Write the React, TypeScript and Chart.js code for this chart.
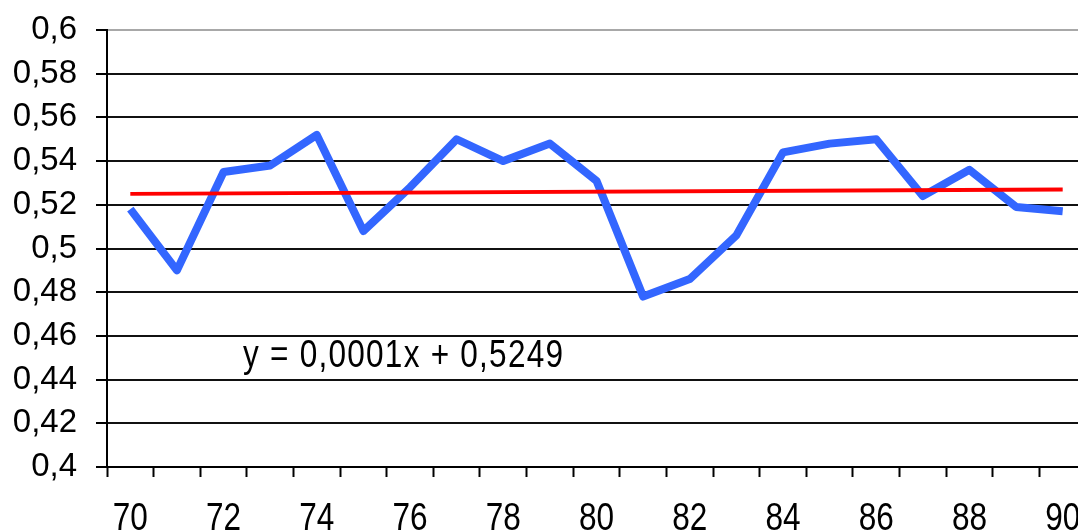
import { useEffect, useRef } from "react";
import { Chart, registerables } from "chart.js";

Chart.register(...registerables);

// Yearly values (x = year, two digits)
const years = [70, 71, 72, 73, 74, 75, 76, 77, 78, 79, 80, 81, 82, 83, 84, 85, 86, 87, 88, 89, 90];
const ratio = [
  0.518, 0.49, 0.535, 0.538, 0.552, 0.508, 0.528, 0.55, 0.54, 0.548, 0.531,
  0.478, 0.486, 0.506, 0.544, 0.548, 0.55, 0.524, 0.536, 0.519, 0.517,
];

// Linear trend (x counted 1..n along the series)
const trendSlope = 0.0001;
const trendIntercept = 0.5249;
const trendLabel = "y = 0,0001x + 0,5249";

// Axis ticks
const yTicks = [0.4, 0.42, 0.44, 0.46, 0.48, 0.5, 0.52, 0.54, 0.56, 0.58, 0.6];
const xLabelYears = [70, 72, 74, 76, 78, 80, 82, 84, 86, 88, 90];

const regularFont = "'Liberation Sans', Arial, sans-serif";
// condensed look for the year labels and the equation
const condense = 0.83;

const trendPoints = [years[0], years[years.length - 1]].map((yr) => ({
  x: yr,
  y: trendIntercept + trendSlope * (years.indexOf(yr) + 1),
}));

const equationPlugin = {
  id: "trendEquation",
  afterDatasetsDraw(chart: any) {
    const { ctx, chartArea } = chart;
    ctx.save();
    ctx.font = `38px ${regularFont}`;
    ctx.fillStyle = "#000";
    ctx.textAlign = "left";
    ctx.textBaseline = "alphabetic";
    (ctx as any).letterSpacing = "1.5px";
    ctx.translate(chartArea.left + 136, chartArea.top + 337);
    ctx.scale(condense, 1);
    ctx.fillText(trendLabel, 0, 0);
    ctx.restore();
  },
};

const yearLabelPlugin = {
  id: "yearLabels",
  afterDraw(chart: any) {
    const { ctx, chartArea } = chart;
    const xs = chart.scales.x;
    ctx.save();
    ctx.font = `38px ${regularFont}`;
    ctx.fillStyle = "#000";
    ctx.textAlign = "center";
    ctx.textBaseline = "alphabetic";
    xLabelYears.forEach((yr) => {
      ctx.save();
      ctx.translate(xs.getPixelForValue(yr), chartArea.bottom + 63);
      ctx.scale(condense, 1);
      ctx.fillText(String(yr), 0, 0);
      ctx.restore();
    });
    ctx.restore();
  },
};

export default function App() {
  const canvasRef = useRef<HTMLCanvasElement | null>(null);

  useEffect(() => {
    if (!canvasRef.current) return;
    const chart = new Chart(canvasRef.current, {
      type: "line",
      data: {
        datasets: [
          {
            label: "Trend",
            data: trendPoints,
            borderColor: "#ff0000",
            borderWidth: 4,
            pointRadius: 0,
            tension: 0,
          },
          {
            label: "Ratio",
            data: years.map((yr, i) => ({ x: yr, y: ratio[i] })),
            borderColor: "#3366ff",
            borderWidth: 8,
            borderJoinStyle: "round",
            pointRadius: 0,
            tension: 0,
          },
        ],
      },
      options: {
        responsive: false,
        animation: false,
        layout: { padding: { left: 0, top: 30, right: 14, bottom: 0 } },
        plugins: {
          legend: { display: false },
          tooltip: { enabled: false },
        },
        scales: {
          x: {
            type: "linear",
            min: years[0] - 0.5,
            max: years[years.length - 1] + 0.5,
            afterBuildTicks: (scale: any) => {
              const t: { value: number }[] = [];
              years.forEach((yr) => {
                t.push({ value: yr - 0.5 });
              });
              t.push({ value: years[years.length - 1] + 0.5 });
              scale.ticks = t;
            },
            afterFit: (scale: any) => {
              scale.height = 65;
              scale.paddingLeft = 0;
              scale.paddingRight = 0;
            },
            border: { display: true, color: "#000", width: 2 },
            grid: {
              drawOnChartArea: false,
              drawTicks: true,
              tickLength: 10,
              tickWidth: 2,
              tickColor: "#000",
            },
            ticks: { display: false, autoSkip: false, maxRotation: 0 },
          },
          y: {
            type: "linear",
            min: yTicks[0],
            max: yTicks[yTicks.length - 1],
            afterBuildTicks: (scale: any) => {
              scale.ticks = yTicks.map((v) => ({ value: v }));
            },
            afterFit: (scale: any) => {
              scale.width = 107;
              scale.paddingTop = 0;
              scale.paddingBottom = 0;
            },
            border: { display: true, color: "#000", width: 2 },
            grid: {
              lineWidth: 2,
              color: (c: any) =>
                c.tick && c.tick.value >= yTicks[yTicks.length - 1] - 1e-9 ? "#a8a8a8" : "#111",
              tickLength: 11,
              tickWidth: 2,
              tickColor: "#000",
            },
            ticks: {
              autoSkip: false,
              padding: 19,
              color: "#000",
              font: { family: regularFont, size: 33 },
              callback: (v: any) => String(Number(Number(v).toFixed(2))).replace(".", ","),
            },
          },
        },
      },
      plugins: [equationPlugin, yearLabelPlugin],
    } as any);
    return () => chart.destroy();
  }, []);

  return (
    <div
      style={{
        position: "fixed",
        left: 0,
        top: 0,
        width: 1078,
        height: 532,
        overflow: "hidden",
        background: "#fff",
      }}
    >
      <canvas ref={canvasRef} width={1100} height={532} style={{ display: "block" }} />
    </div>
  );
}
